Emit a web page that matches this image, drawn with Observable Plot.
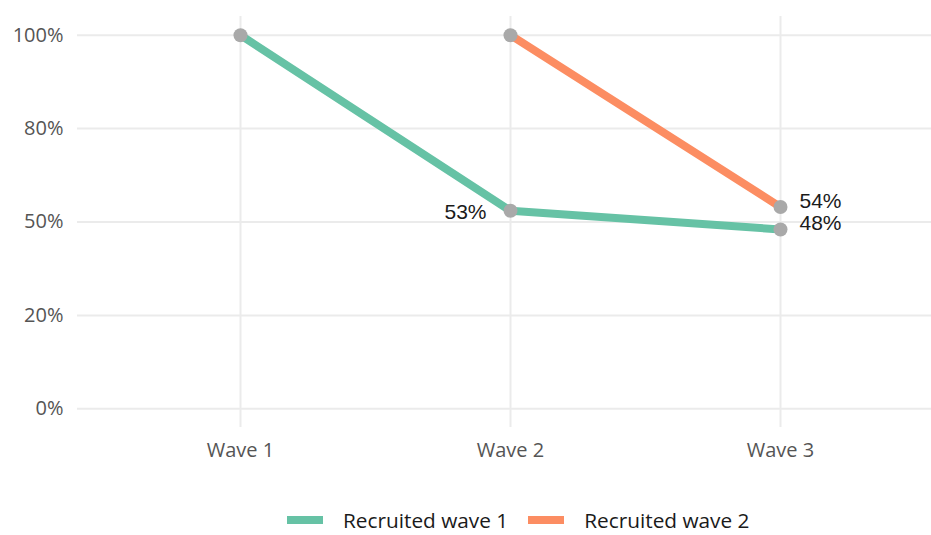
<!DOCTYPE html>
<html>
<head>
<meta charset="utf-8">
<script src="https://cdn.jsdelivr.net/npm/d3@7"></script>
<script src="https://cdn.jsdelivr.net/npm/@observablehq/plot@0.6"></script>
<style>
  html, body { margin: 0; padding: 0; background: #ffffff; }
  #chart svg { display: block; }
  .legend {
    display: flex; align-items: center; height: 46px;
    padding-left: 287px; box-sizing: border-box;
    font-family: "Open Sans", sans-serif; font-size: 20.8px; color: #1a1a1a;
  }
  .legend .swatch { width: 36px; height: 8px; margin-right: 20px; }
  .legend .item { display: flex; align-items: center; margin-right: 20px; }
</style>
</head>
<body>
<div id="chart"></div>
<div class="legend" id="legend"></div>
<script>
// Survey waves and the two recruitment cohorts
const waves = ["Wave 1", "Wave 2", "Wave 3"];
const cohorts = ["Recruited wave 1", "Recruited wave 2"];

// Share of each cohort still taking part at each wave (null = not yet recruited)
const retainedRecruitedWave1 = [1.00, 0.53, 0.48];
const retainedRecruitedWave2 = [null, 1.00, 0.54];

// Y axis ticks and the labels printed beside them
const yTicks = [0, 0.25, 0.5, 0.75, 1];
const yTickLabels = ["0%", "20%", "50%", "80%", "100%"];

const cohortColors = ["#66c2a5", "#fc8d62"];

const series = [retainedRecruitedWave1, retainedRecruitedWave2];
const rows = [];
cohorts.forEach((cohort, c) => {
  let first = true;
  waves.forEach((wave, w) => {
    const v = series[c][w];
    if (v == null) return;
    rows.push({cohort, wave, value: v, start: first});
    first = false;
  });
});

// Every point after a cohort's starting wave carries its percentage
const labelled = rows.filter(d => !d.start);
const pct = d => Math.round(d.value * 100) + "%";
const lastWave = waves[waves.length - 1];

const grid = {stroke: "#ebebeb", strokeOpacity: 1, strokeWidth: 2};

const chart = Plot.plot({
  width: 931,
  height: 497,
  marginLeft: 77,
  marginRight: 0,
  marginTop: 16,
  marginBottom: 70,
  style: {fontFamily: "Open Sans, sans-serif", fontSize: "20px", color: "#555555", background: "#ffffff"},
  x: {type: "point", domain: waves, range: [240, 780], padding: 0},
  y: {domain: [-0.05, 1.05]},
  color: {domain: cohorts, range: cohortColors},
  marks: [
    Plot.gridY(yTicks, grid),
    Plot.gridX(waves, grid),
    Plot.axisY(yTicks, {tickSize: 0, tickPadding: 14, label: null,
      tickFormat: d => yTickLabels[yTicks.indexOf(d)]}),
    Plot.axisX(waves, {tickSize: 0, tickPadding: 15, label: null}),
    Plot.line(rows, {x: "wave", y: "value", z: "cohort", stroke: "cohort", strokeWidth: 8}),
    Plot.dot(rows, {x: "wave", y: "value", r: 7, fill: "#a9a9a9"}),
    Plot.text(labelled.filter(d => d.wave !== lastWave), {
      x: "wave", y: "value", text: pct, textAnchor: "end", dx: -24, dy: 1,
      fontFamily: "Liberation Sans, Arial, sans-serif", fontSize: 21, fill: "#1a1a1a"
    }),
    Plot.text(labelled.filter(d => d.wave === lastWave), {
      x: "wave", y: "value", text: pct, textAnchor: "start", dx: 19, dy: -6,
      fontFamily: "Liberation Sans, Arial, sans-serif", fontSize: 21, fill: "#1a1a1a"
    })
  ]
});
document.getElementById("chart").append(chart);

// Cohort legend below the plot
const legend = document.getElementById("legend");
cohorts.forEach((c, i) => {
  const item = document.createElement("div");
  item.className = "item";
  const sw = document.createElement("div");
  sw.className = "swatch";
  sw.style.background = cohortColors[i];
  const label = document.createElement("span");
  label.textContent = c;
  item.append(sw, label);
  legend.append(item);
});
</script>
</body>
</html>
